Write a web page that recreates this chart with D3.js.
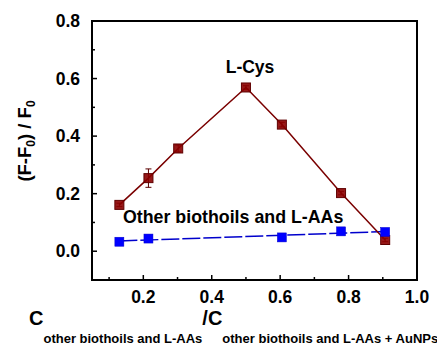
<!DOCTYPE html>
<html>
<head>
<meta charset="utf-8">
<script src="https://cdn.jsdelivr.net/npm/d3@7"></script>
<style>
body { margin: 0; background: #fff; }
text { font-family: Arial, "Liberation Sans", sans-serif; font-weight: bold; }
</style>
</head>
<body>
<div id="chart"></div>
<script>
// data
var ratioX = [0.13, 0.215, 0.302, 0.50, 0.605, 0.778, 0.907];
var cysY = [0.161, 0.254, 0.357, 0.569, 0.440, 0.202, 0.039];
var cysErr = [0.006, 0.032, 0.012, 0.006, 0.008, 0.006, 0.006];
var otherX = [0.13, 0.215, 0.605, 0.778, 0.907];
var otherY = [0.033, 0.044, 0.048, 0.069, 0.067];
var xTicks = [0.2, 0.4, 0.6, 0.8, 1.0];
var yTicks = [0.0, 0.2, 0.4, 0.6, 0.8];
var xMinor = [0.1, 0.3, 0.5, 0.7, 0.9];
var yMinor = [0.1, 0.3, 0.5, 0.7];

var W = 437, H = 346;
var plot = {left: 92, top: 21, right: 417, bottom: 280};

var svg = d3.select("#chart").append("svg")
	.attr("width", W)
	.attr("height", H);

var x = d3.scaleLinear().domain([0.05, 1.0]).range([plot.left, plot.right]);
var y = d3.scaleLinear().domain([-0.1, 0.8]).range([plot.bottom, plot.top]);

// ticks (inward, left + bottom only)
var g = svg.append("g");
g.selectAll(".yt").data(yTicks).enter().append("line")
	.attr("x1", plot.left).attr("x2", plot.left + 5)
	.attr("y1", function (d) { return y(d); }).attr("y2", function (d) { return y(d); })
	.attr("stroke", "#000").attr("stroke-width", 1.5);
g.selectAll(".ym").data(yMinor).enter().append("line")
	.attr("x1", plot.left).attr("x2", plot.left + 3)
	.attr("y1", function (d) { return y(d); }).attr("y2", function (d) { return y(d); })
	.attr("stroke", "#000").attr("stroke-width", 1.5);
g.selectAll(".xt").data(xTicks).enter().append("line")
	.attr("y1", plot.bottom).attr("y2", plot.bottom - 5)
	.attr("x1", function (d) { return x(d); }).attr("x2", function (d) { return x(d); })
	.attr("stroke", "#000").attr("stroke-width", 1.5);
g.selectAll(".xm").data(xMinor).enter().append("line")
	.attr("y1", plot.bottom).attr("y2", plot.bottom - 3)
	.attr("x1", function (d) { return x(d); }).attr("x2", function (d) { return x(d); })
	.attr("stroke", "#000").attr("stroke-width", 1.5);

// tick labels
g.selectAll(".yl").data(yTicks).enter().append("text")
	.attr("x", plot.left - 12)
	.attr("y", function (d) { return y(d) + 6; })
	.attr("text-anchor", "end")
	.attr("font-size", 17.5)
	.text(function (d) { return d.toFixed(1); });
g.selectAll(".xl").data(xTicks).enter().append("text")
	.attr("x", function (d) { return x(d); })
	.attr("y", 303)
	.attr("text-anchor", "middle")
	.attr("font-size", 17.5)
	.text(function (d) { return d.toFixed(1); });

// frame
svg.append("rect")
	.attr("x", plot.left).attr("y", plot.top)
	.attr("width", plot.right - plot.left).attr("height", plot.bottom - plot.top)
	.attr("fill", "none").attr("stroke", "#000").attr("stroke-width", 2);

// blue linear fit
var mx = d3.mean(otherX), my = d3.mean(otherY);
var sxy = d3.sum(otherX, function (d, i) { return (d - mx) * (otherY[i] - my); });
var sxx = d3.sum(otherX, function (d) { return (d - mx) * (d - mx); });
var slope = sxy / sxx, icpt = my - slope * mx;
var fitX = d3.extent(otherX);
svg.append("line")
	.attr("x1", x(fitX[0])).attr("y1", y(icpt + slope * fitX[0]))
	.attr("x2", x(fitX[1])).attr("y2", y(icpt + slope * fitX[1]))
	.attr("stroke", "#0000cc").attr("stroke-width", 1.5)
	.attr("stroke-dasharray", "18,3");

// red polyline
var line = d3.line()
	.x(function (d) { return x(d[0]); })
	.y(function (d) { return y(d[1]); });
svg.append("path")
	.datum(d3.zip(ratioX, cysY))
	.attr("d", line)
	.attr("fill", "none").attr("stroke", "#7a0000").attr("stroke-width", 1.5);

// error bars
var eb = svg.append("g").attr("stroke", "#5a0000").attr("stroke-width", 1);
ratioX.forEach(function (d, i) {
	var cx = x(d), y0 = y(cysY[i] - cysErr[i]), y1 = y(cysY[i] + cysErr[i]);
	eb.append("line").attr("x1", cx).attr("x2", cx).attr("y1", y0).attr("y2", y1);
	eb.append("line").attr("x1", cx - 3).attr("x2", cx + 3).attr("y1", y0).attr("y2", y0);
	eb.append("line").attr("x1", cx - 3).attr("x2", cx + 3).attr("y1", y1).attr("y2", y1);
});

// markers
var ms = 9;
svg.selectAll(".cys").data(d3.zip(ratioX, cysY)).enter().append("rect")
	.attr("x", function (d) { return x(d[0]) - ms / 2; })
	.attr("y", function (d) { return y(d[1]) - ms / 2; })
	.attr("width", ms).attr("height", ms)
	.attr("fill", "#8b0000").attr("fill-opacity", 0.9)
	.attr("stroke", "#600000").attr("stroke-width", 1);
svg.selectAll(".oth").data(d3.zip(otherX, otherY)).enter().append("rect")
	.attr("x", function (d) { return x(d[0]) - ms / 2; })
	.attr("y", function (d) { return y(d[1]) - ms / 2; })
	.attr("width", ms).attr("height", ms)
	.attr("fill", "#0000ff")
	.attr("stroke", "#0000cc").attr("stroke-width", 0.5);

// annotations
svg.append("text").attr("x", 250).attr("y", 73)
	.attr("text-anchor", "middle").attr("font-size", 17.5).text("L-Cys");
svg.append("text").attr("x", 123).attr("y", 223)
	.attr("font-size", 17.8).text("Other biothoils and L-AAs");

// y title
var yt = svg.append("text")
	.attr("transform", "translate(31,141) rotate(-90)")
	.attr("text-anchor", "middle")
	.attr("font-size", 18.5);
yt.append("tspan").text("(F-F");
yt.append("tspan").attr("font-size", 12).attr("dy", 4).text("0");
yt.append("tspan").attr("dy", -4).text(") / F");
yt.append("tspan").attr("font-size", 12).attr("dy", 4).text("0");

// x title
var xt = svg.append("text").attr("x", 29).attr("y", 325).attr("font-size", 20);
xt.append("tspan").text("C");
xt.append("tspan").attr("font-size", 13).attr("dy", 18).text("other biothoils and L-AAs");
xt.append("tspan").attr("dy", -18).text("/C");
xt.append("tspan").attr("font-size", 13).attr("dy", 18).text("other biothoils and L-AAs + AuNPs");
</script>
</body>
</html>
